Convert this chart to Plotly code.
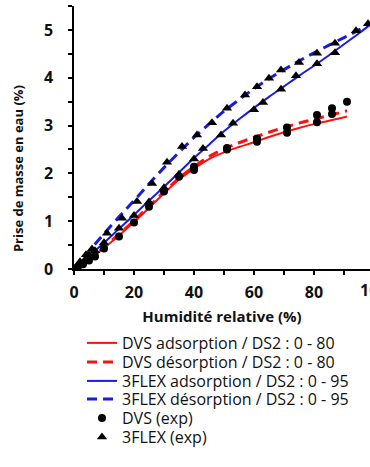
import plotly.graph_objects as go

# ---------------- data ----------------
# model curves
dvs_x = [0, 5, 10, 15, 20, 25, 30, 35, 40, 45, 50, 55, 60, 65, 70, 75, 80, 85, 91]
dvs_ads_y = [0, 0.20, 0.44, 0.70, 0.98, 1.28, 1.58, 1.87, 2.10, 2.30, 2.44, 2.55, 2.65, 2.76, 2.86, 2.95, 3.03, 3.10, 3.19]
dvs_des_y = [0, 0.21, 0.46, 0.73, 1.01, 1.31, 1.61, 1.90, 2.14, 2.35, 2.51, 2.64, 2.75, 2.86, 2.96, 3.05, 3.13, 3.21, 3.31]

flex_x = [0, 5, 10, 15, 20, 25, 30, 35, 40, 45, 50, 55, 60, 65, 70, 75, 80, 85, 90, 95, 100]
flex_ads_y = [0, 0.27, 0.55, 0.84, 1.13, 1.43, 1.72, 2.02, 2.32, 2.60, 2.88, 3.13, 3.37, 3.60, 3.82, 4.04, 4.25, 4.47, 4.70, 4.93, 5.17]
flex_des_y = [0, 0.37, 0.74, 1.09, 1.43, 1.78, 2.12, 2.44, 2.75, 3.03, 3.30, 3.54, 3.77, 3.98, 4.17, 4.35, 4.52, 4.68, 4.84, 5.00, 5.17]

# experimental points
dvs_exp_x = [1, 3, 5, 7, 10, 15, 20, 25, 30, 35, 40, 40, 51, 51, 61, 61, 71, 71, 81, 81, 86, 86, 91]
dvs_exp_y = [0.03, 0.10, 0.18, 0.26, 0.43, 0.68, 0.97, 1.30, 1.62, 1.93, 2.07, 2.14, 2.50, 2.53, 2.66, 2.73, 2.85, 2.96, 3.07, 3.22, 3.24, 3.36, 3.50]

flex_exp_x = [1, 2, 4, 5, 7, 10, 15, 20, 25, 30, 35, 40, 43, 49, 53, 60, 63, 69, 74, 81, 87, 98,
              94, 87, 81, 75, 69, 65, 61, 57, 51, 46, 41, 36, 31, 26, 21, 16, 11, 6, 4, 2]
flex_exp_y = [0.05, 0.12, 0.22, 0.28, 0.38, 0.55, 0.85, 1.12, 1.40, 1.70, 1.98, 2.30, 2.52, 2.80, 3.05, 3.33, 3.48, 3.76, 4.04, 4.29, 4.52, 5.13,
              4.98, 4.72, 4.51, 4.32, 4.16, 3.99, 3.81, 3.64, 3.36, 3.06, 2.80, 2.56, 2.23, 1.79, 1.41, 1.06, 0.75, 0.42, 0.30, 0.15]

names = ["DVS adsorption / DS2 : 0 - 80", "DVS désorption / DS2 : 0 - 80",
         "3FLEX adsorption / DS2 : 0 - 95", "3FLEX désorption / DS2 : 0 - 95",
         "DVS (exp)", "3FLEX (exp)"]

x_ticks = [0, 20, 40, 60, 80, 100]
y_ticks = [0, 1, 2, 3, 4, 5]

RED = "#ff1010"
BLUE = "#1a1ae0"
FONT = "Open Sans"

fig = go.Figure()
fig.add_trace(go.Scatter(x=dvs_x, y=dvs_ads_y, mode="lines", name=names[0], legend="legend",
                         line=dict(color=RED, width=2, shape="spline")))
fig.add_trace(go.Scatter(x=dvs_x, y=dvs_des_y, mode="lines", name=names[1], legend="legend2",
                         line=dict(color=RED, width=3, dash="10px,6px", shape="spline")))
fig.add_trace(go.Scatter(x=flex_x, y=flex_ads_y, mode="lines", name=names[2], legend="legend3",
                         line=dict(color=BLUE, width=2, shape="spline")))
fig.add_trace(go.Scatter(x=flex_x, y=flex_des_y, mode="lines", name=names[3], legend="legend4",
                         line=dict(color=BLUE, width=3, dash="10px,6px", shape="spline")))
fig.add_trace(go.Scatter(x=dvs_exp_x, y=dvs_exp_y, mode="markers", name=names[4], legend="legend5",
                         marker=dict(color="black", size=8, symbol="circle")))
fig.add_trace(go.Scatter(x=flex_exp_x, y=flex_exp_y, mode="markers", name=names[5], legend="legend6",
                         marker=dict(color="black", size=9, symbol="triangle-up")))

axis_common = dict(showline=True, linecolor="black", linewidth=1.5, ticks="outside",
                   ticklen=4, tickwidth=1.5, tickcolor="black", showgrid=False, zeroline=False,
                   tickfont=dict(family=FONT, size=16, color="#111", weight="bold"))

fig.update_xaxes(range=[0, 98.667], tickvals=x_ticks, ticklabelstandoff=4,
                 minor=dict(dtick=10, ticks="outside", ticklen=4, tickwidth=1.5, tickcolor="black"),
                 title=dict(text="Humidité relative (%)", standoff=10,
                            font=dict(family=FONT, size=15, color="#111", weight="bold")),
                 **axis_common)
fig.update_yaxes(range=[0, 5.5], tickvals=y_ticks, ticklabelstandoff=12,
                 minor=dict(dtick=0.5, ticks="outside", ticklen=4, tickwidth=1.5, tickcolor="black"),
                 **axis_common)

legend_rows = [343, 362, 381, 399, 418, 437]
legend_common = dict(x=0.027, xanchor="left", yanchor="middle", bgcolor="rgba(0,0,0,0)",
                     font=dict(family=FONT, size=16, color="#111"), borderwidth=0)
lay = {}
for i, py in enumerate(legend_rows):
    key = "legend" if i == 0 else f"legend{i+1}"
    lay[key] = dict(y=(269 - py) / 263, **legend_common)

fig.update_layout(
    width=370, height=467,
    margin=dict(l=74, r=0, t=6, b=198, pad=0, autoexpand=False),
    plot_bgcolor="white", paper_bgcolor="white",
    font=dict(family=FONT),
    showlegend=True,
    annotations=[
        dict(text="Prise de masse en eau (%)", textangle=-90, xref="paper", yref="paper",
             x=-0.189, y=0.38, xanchor="center", yanchor="middle", showarrow=False,
             font=dict(family=FONT, size=13, color="#111", weight="bold")),
        dict(text=str(x_ticks[-1]), xref="paper", yref="paper", x=100 / 98.667, y=0,
             xanchor="center", yanchor="top", yshift=-8, showarrow=False,
             font=dict(family=FONT, size=16, color="#111", weight="bold")),
    ],
    **lay,
)

fig.write_html("out.html", config={"displayModeBar": False},
               post_script="document.body.style.margin='0';document.body.style.overflow='hidden';")
